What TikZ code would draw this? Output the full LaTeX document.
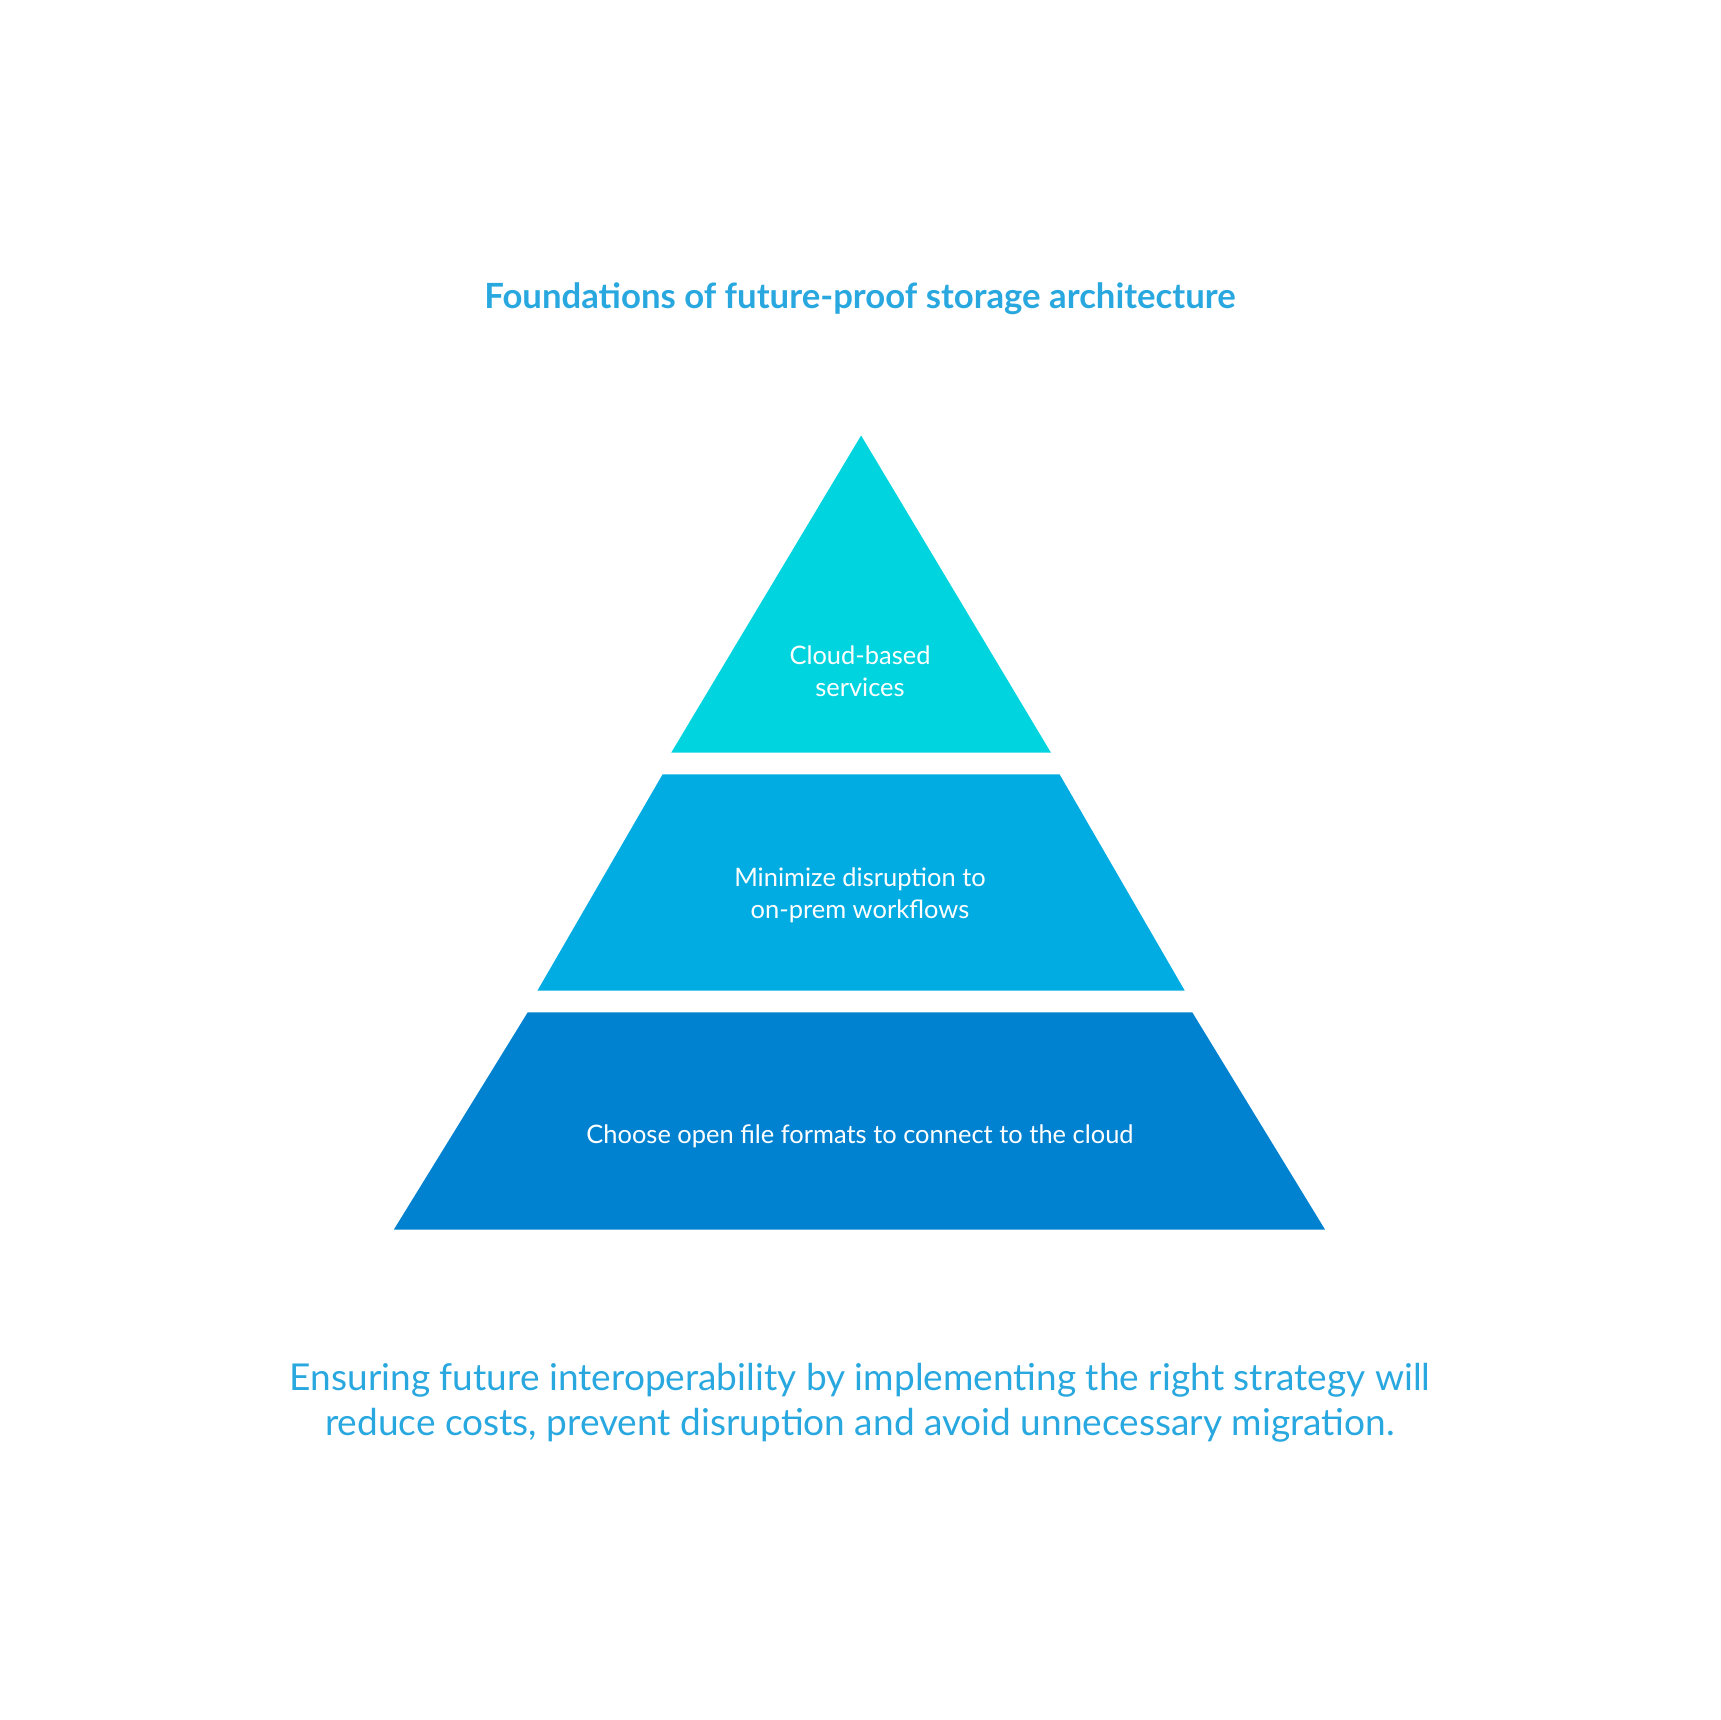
\documentclass[tikz,border=0pt]{standalone}
\usepackage{fontspec}
\setmainfont{Lato}
\begin{document}
\begin{tikzpicture}[x=0.01cm,y=-0.01cm,
  lbl/.style={text=white,font=\fontsize{6.6pt}{8.4pt}\selectfont,align=center},
  ttl/.style={text=titc,font=\bfseries\fontsize{9pt}{11pt}\selectfont},
  foot/.style={text=titc,font=\fontsize{9.6pt}{11.6pt}\selectfont,align=center}]
\definecolor{titc}{HTML}{29A8E0}
\definecolor{ca}{HTML}{00D4DE}
\definecolor{cb}{HTML}{00ACE2}
\definecolor{cc}{HTML}{0082D0}
\useasboundingbox (0,0) rectangle (1568,1568);
\fill[ca] (785,397) -- (958,686) -- (612,686) -- cycle;
\fill[cb] (604,706) -- (966,706) -- (1080,903) -- (490,903) -- cycle;
\fill[cc] (481,923) -- (1087,923) -- (1208,1121) -- (359,1121) -- cycle;
\node[ttl] (title) at (784,272) {Foundations of future-proof storage architecture};
\node[lbl] (l1) at (784,612) {Cloud-based\\services};
\node[lbl] (l2) at (784,816) {Minimize disruption to\\on-prem workflows};
\node[lbl] (l3) at (784,1036) {Choose open file formats to connect to the cloud};
\node[foot] (f) at (784,1279) {Ensuring future interoperability by implementing the right strategy will\\reduce costs, prevent disruption and avoid unnecessary migration.};
\end{tikzpicture}
\end{document}
